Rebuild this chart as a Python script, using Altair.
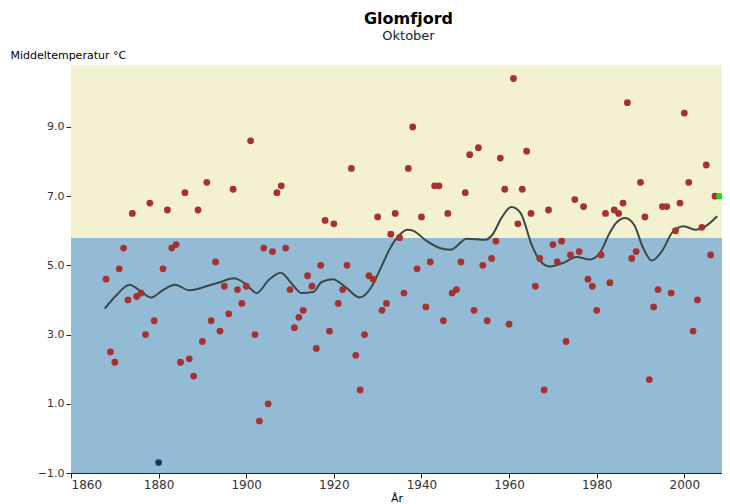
import altair as alt
import pandas as pd

years = list(range(1868, 2009))
temps = [4.6, 2.5, 2.2, 4.9, 5.5, 4.0, 6.5, 4.1, 4.2, 3.0, 6.8, 3.4, -0.7, 4.9, 6.6, 5.5, 5.6, 2.2, 7.1, 2.3,
         1.8, 6.6, 2.8, 7.4, 3.4, 5.1, 3.1, 4.4, 3.6, 7.2, 4.3, 3.9, 4.4, 8.6, 3.0, 0.5, 5.5, 1.0, 5.4, 7.1,
         7.3, 5.5, 4.3, 3.2, 3.5, 3.7, 4.7, 4.4, 2.6, 5.0, 6.3, 3.1, 6.2, 3.9, 4.3, 5.0, 7.8, 2.4, 1.4, 3.0,
         4.7, 4.6, 6.4, 3.7, 3.9, 5.9, 6.5, 5.8, 4.2, 7.8, 9.0, 4.9, 6.4, 3.8, 5.1, 7.3, 7.3, 3.4, 6.5, 4.2,
         4.3, 5.1, 7.1, 8.2, 3.7, 8.4, 5.0, 3.4, 5.2, 5.7, 8.1, 7.2, 3.3, 10.4, 6.2, 7.2, 8.3, 6.5, 4.4, 5.2,
         1.4, 6.6, 5.6, 5.1, 5.7, 2.8, 5.3, 6.9, 5.4, 6.7, 4.6, 4.4, 3.7, 5.3, 6.5, 4.5, 6.6, 6.5, 6.8, 9.7,
         5.2, 5.4, 7.4, 6.4, 1.7, 3.8, 4.3, 6.7, 6.7, 4.2, 6.0, 6.8, 9.4, 7.4, 3.1, 4.0, 6.1, 7.9, 5.3, 7.0,
         7.0]
kinds = ["normal"] * len(years)
kinds[years.index(1880)] = "coldest"
kinds[years.index(2008)] = "latest"

smooth_years = [1867.7, 1870.3, 1873.4, 1875.6, 1878.3, 1880.9, 1883.8, 1887.0, 1889.2, 1891.5, 1894.1,
                1897.2, 1899.8, 1902.4, 1905.1, 1907.9, 1910.4, 1912.6, 1915.3, 1917.2, 1919.8, 1922.5,
                1925.9, 1928.5, 1930.8, 1933.0, 1934.9, 1936.8, 1938.3, 1941.0, 1944.0, 1946.6, 1950.4,
                1954.6, 1956.1, 1958.4, 1960.5, 1962.6, 1965.2, 1967.0, 1969.3, 1972.3, 1975.4, 1978.4,
                1980.6, 1982.9, 1984.4, 1986.5, 1988.6, 1990.5, 1992.6, 1995.0, 1997.3, 1999.9, 2002.5,
                2004.8, 2007.5]
smooth_vals = [3.75, 4.13, 4.44, 4.28, 4.07, 4.28, 4.44, 4.28, 4.33, 4.42, 4.52,
               4.63, 4.47, 4.20, 4.57, 4.79, 4.47, 4.20, 4.23, 4.52, 4.60, 4.39,
               4.07, 4.36, 4.95, 5.53, 5.87, 6.03, 5.99, 5.72, 5.51, 5.45, 5.77,
               5.74, 5.87, 6.40, 6.69, 6.52, 5.58, 5.14, 4.97, 5.07, 5.24, 5.17,
               5.34, 5.92, 6.22, 6.37, 6.16, 5.53, 5.14, 5.43, 5.96, 6.13, 6.03,
               6.13, 6.42]

normal_level = 5.8
y_min, y_max = -1.0, 10.79
x_min, x_max = 1860, 2008.6
x_ticks = [1860, 1880, 1900, 1920, 1940, 1960, 1980, 2000]
y_ticks = [-1.0, 1.0, 3.0, 5.0, 7.0, 9.0]

pts = pd.DataFrame({"year": years, "temp": temps, "kind": kinds})
line_df = pd.DataFrame({"year": smooth_years, "temp": smooth_vals})
bands = pd.DataFrame({"lo": [y_min, normal_level], "hi": [normal_level, y_max], "band": ["below", "above"]})

W, H = 651, 408
xs = alt.Scale(domain=[x_min, x_max], nice=False, zero=False)
ys = alt.Scale(domain=[y_min, y_max], nice=False, zero=False)

x_axis = alt.Axis(values=x_ticks, format="d", title="År", grid=False, labelFontSize=12,
                  labelColor="#333", tickColor="#222", domainColor="#222", tickSize=5,
                  titleFontSize=11, titleFontWeight="normal", titleBaseline="top", titleY=19,
                  labelPadding=1)
y_axis = alt.Axis(values=y_ticks, format=".1f", title="Middeltemperatur °C", grid=False,
                  labelFontSize=11, labelColor="#333", tickColor="#222", domainColor="#222", tickSize=5,
                  titleAngle=0, titleAlign="left", titleBaseline="bottom", titleX=-61, titleY=-5,
                  titleFontSize=11, titleFontWeight="normal")

band_layer = alt.Chart(bands).mark_rect().encode(
    x=alt.datum(x_min, scale=xs), x2=alt.datum(x_max),
    y=alt.Y("lo:Q", scale=ys, axis=y_axis), y2="hi:Q",
    fill=alt.Fill("band:N", scale=alt.Scale(domain=["below", "above"], range=["#94bbd6", "#f3f1cf"]), legend=None),
)

line_layer = alt.Chart(line_df).mark_line(color="#3b4848", strokeWidth=2, interpolate="monotone").encode(
    x=alt.X("year:Q", scale=xs, axis=x_axis), y=alt.Y("temp:Q", scale=ys),
)

point_layer = alt.Chart(pts).mark_point(filled=True, opacity=1, shape="circle").encode(
    x=alt.X("year:Q", scale=xs), y=alt.Y("temp:Q", scale=ys),
    color=alt.Color("kind:N", scale=alt.Scale(domain=["normal", "coldest", "latest"],
                                              range=["#a8302e", "#0d3a66", "#11e011"]), legend=None),
    size=alt.Size("kind:N", scale=alt.Scale(domain=["normal", "coldest", "latest"], range=[46, 42, 120]), legend=None),
)

chart = alt.layer(band_layer, line_layer, point_layer).resolve_scale(
    color="independent", fill="independent", size="independent"
).properties(
    width=W, height=H,
    title=alt.TitleParams("Glomfjord", subtitle="Oktober", fontSize=16, fontWeight="bold", subtitleFontSize=13,
                          color="#000", subtitleColor="#222", anchor="middle", dx=12, offset=6,
                          subtitlePadding=3, font="DejaVu Sans", subtitleFont="DejaVu Sans"),
    autosize=alt.AutoSizeParams(type="none"),
    padding={"left": 63, "top": 57, "right": 0, "bottom": 31},
).configure_view(stroke="#333", strokeWidth=1).configure(font="DejaVu Sans")

chart.save("out.html", embed_options={"renderer": "svg", "actions": False})
